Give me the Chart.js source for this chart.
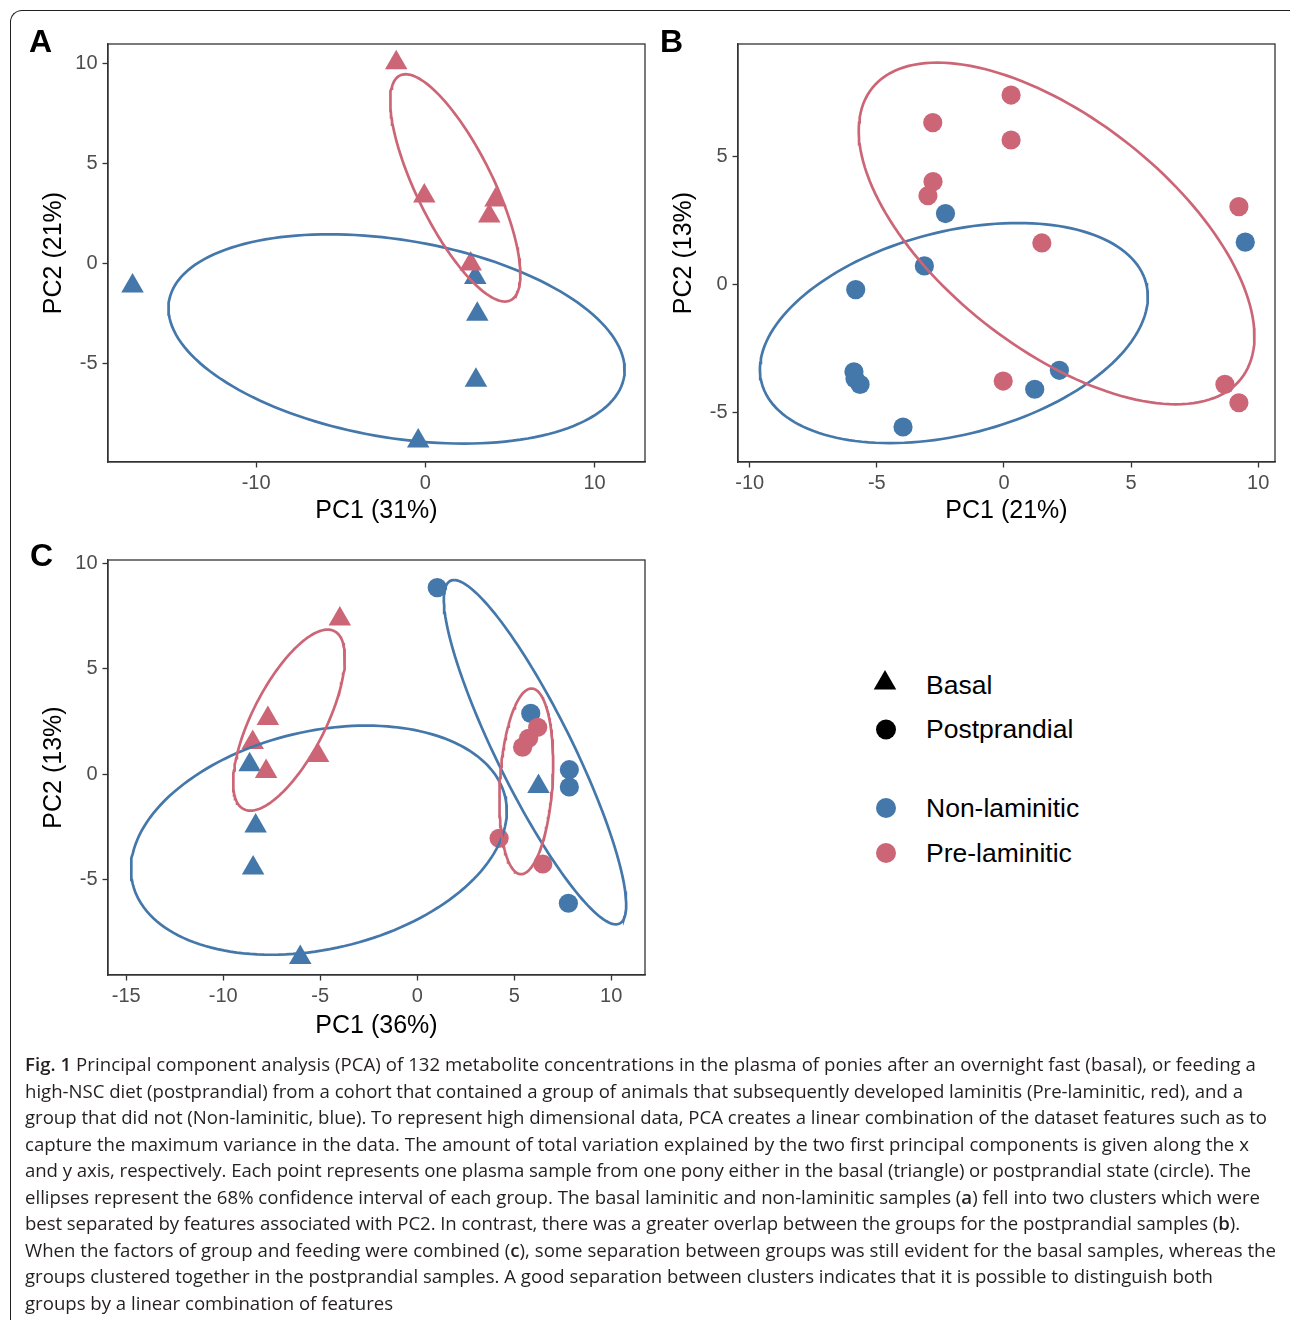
<!DOCTYPE html>
<html>
<head>
<meta charset="utf-8">
<script src="https://cdn.jsdelivr.net/npm/chart.js@4.4.1/dist/chart.umd.min.js"></script>
<style>
html,body{margin:0;padding:0;background:#fff;}
#page{position:relative;width:1290px;height:1320px;overflow:hidden;background:#fff;font-family:"Liberation Sans",Arial,sans-serif;}
.frame{position:absolute;left:10px;top:10px;width:1400px;height:1400px;border-left:1.5px solid #231f20;border-top:1.5px solid #231f20;border-top-left-radius:12px;}
canvas{position:absolute;}
.letter{position:absolute;font-weight:bold;font-size:32px;line-height:32px;color:#000;}
.leg{position:absolute;left:926px;font-size:26.5px;line-height:30px;color:#000;white-space:nowrap;}
.caption{position:absolute;left:25px;top:1051px;font-family:"Open Sans",sans-serif;font-size:18.6px;line-height:26.5px;color:#231f20;white-space:nowrap;}
.caption span{display:inline-block;}
.caption b{font-weight:600;}
</style>
</head>
<body>
<div id="page">
  <div class="frame"></div>
  <canvas id="cA" width="660" height="540" style="left:0;top:0;"></canvas>
  <canvas id="cB" width="660" height="540" style="left:630px;top:0;"></canvas>
  <canvas id="cC" width="660" height="537" style="left:0;top:516px;"></canvas>
  <div class="letter" style="left:29px;top:25px;">A</div>
  <div class="letter" style="left:660px;top:25px;">B</div>
  <div class="letter" style="left:30px;top:539px;">C</div>

  <svg style="position:absolute;left:860px;top:660px;" width="60" height="220">
    <polygon points="25,10 36.26,29.5 13.74,29.5" fill="#000"/>
    <circle cx="26" cy="69.5" r="10" fill="#000"/>
    <circle cx="26" cy="148" r="10" fill="#4477AA"/>
    <circle cx="26" cy="193" r="10" fill="#CC6677"/>
  </svg>
  <div class="leg" style="top:670px;">Basal</div>
  <div class="leg" style="top:714px;">Postprandial</div>
  <div class="leg" style="top:793px;">Non-laminitic</div>
  <div class="leg" style="top:838px;">Pre-laminitic</div>

  <div class="caption" id="cap">
    <div><span data-r="1256"><b>Fig. 1</b> Principal component analysis (PCA) of 132 metabolite concentrations in the plasma of ponies after an overnight fast (basal), or feeding a</span></div>
    <div><span data-r="1243">high-NSC diet (postprandial) from a cohort that contained a group of animals that subsequently developed laminitis (Pre-laminitic, red), and a</span></div>
    <div><span data-r="1267">group that did not (Non-laminitic, blue). To represent high dimensional data, PCA creates a linear combination of the dataset features such as to</span></div>
    <div><span data-r="1249">capture the maximum variance in the data. The amount of total variation explained by the two first principal components is given along the x</span></div>
    <div><span data-r="1251">and y axis, respectively. Each point represents one plasma sample from one pony either in the basal (triangle) or postprandial state (circle). The</span></div>
    <div><span data-r="1260">ellipses represent the 68% confidence interval of each group. The basal laminitic and non-laminitic samples (<b>a</b>) fell into two clusters which were</span></div>
    <div><span data-r="1240">best separated by features associated with PC2. In contrast, there was a greater overlap between the groups for the postprandial samples (<b>b</b>).</span></div>
    <div><span data-r="1276">When the factors of group and feeding were combined (<b>c</b>), some separation between groups was still evident for the basal samples, whereas the</span></div>
    <div><span data-r="1213">groups clustered together in the postprandial samples. A good separation between clusters indicates that it is possible to distinguish both</span></div>
    <div><span>groups by a linear combination of features</span></div>
  </div>
</div>

<script>
// ---------- Data ----------
// Panel A: basal samples
const aNonX = [-17.3, 2.95, 3.07, 2.99, -0.42];
const aNonY = [-1.13, -0.70, -2.53, -5.83, -8.87];
const aPreX = [-1.72, -0.06, 4.15, 3.78, 2.68];
const aPreY = [10.03, 3.37, 3.17, 2.37, -0.03];

// Panel B: postprandial samples
const bNonX = [-2.30, -3.13, -5.83, -5.90, -5.86, -5.66, 2.18, 1.21, -3.97, 9.49];
const bNonY = [2.78, 0.73, -0.20, -3.42, -3.69, -3.91, -3.36, -4.10, -5.58, 1.66];
const bPreX = [0.28, -2.80, 0.28, -2.79, -2.99, 1.49, 9.24, -0.03, 8.69, 9.24];
const bPreY = [7.42, 6.34, 5.66, 4.03, 3.48, 1.63, 3.05, -3.78, -3.91, -4.63];

// Panel C: combined
const cNonBasalX = [-8.64, -8.33, -8.46, -6.03, 6.25];
const cNonBasalY = [0.46, -2.45, -4.44, -8.68, -0.57];
const cPreBasalX = [-3.99, -7.70, -8.48, -7.79, -5.11];
const cPreBasalY = [7.36, 2.65, 1.51, 0.14, 0.89];
const cNonPostX = [1.03, 5.85, 7.84, 7.84, 7.79];
const cNonPostY = [8.85, 2.89, 0.22, -0.60, -6.11];
const cPrePostX = [6.21, 5.74, 5.43, 4.22, 6.47];
const cPrePostY = [2.23, 1.71, 1.29, -3.03, -4.25];

// 68% ellipses: [centreX, centreY, axis1X, axis1Y, axis2X (horizontal conjugate)]
const ellANon = [-1.70, -3.77, -3.97, 5.23, 12.88];
const ellAPre = [1.77, 3.78, -2.93, 5.68, 2.49];
const ellBNon = [-1.97, -1.90, 2.52, 4.31, 7.20];
const ellBPre = [2.07, 2.00, -4.69, 6.69, 6.21];
const ellCNonBasal = [-5.07, -3.12, 2.45, 5.43, 9.37];
const ellCPreBasal = [-6.61, 2.57, 1.99, 4.29, 2.08];
const ellCNonPost = [6.07, 1.05, -4.17, 8.16, 2.17];
const ellCPrePost = [5.62, -0.33, 0.27, 4.40, 1.36];

// Axis ticks and titles
const aXTicks = [-10, 0, 10];
const aYTicks = [-5, 0, 5, 10];
const bXTicks = [-10, -5, 0, 5, 10];
const bYTicks = [-5, 0, 5];
const cXTicks = [-15, -10, -5, 0, 5, 10];
const cYTicks = [-5, 0, 5, 10];
const aTitles = ['PC1 (31%)', 'PC2 (21%)'];
const bTitles = ['PC1 (21%)', 'PC2 (13%)'];
const cTitles = ['PC1 (36%)', 'PC2 (13%)'];
const aRange = [-18.75, 12.98, -9.92, 10.97];
const bRange = [-10.46, 10.66, -6.95, 9.42];
const cRange = [-15.94, 11.74, -9.51, 10.16];

// ---------- Helpers ----------
const BLUE = '#4477AA', RED = '#CC6677';
const zip = (xs, ys) => xs.map((x, i) => ({x: x, y: ys[i]}));
function ellipsePts(p) {
  const n = 160, out = [];
  for (let i = 0; i <= n; i++) {
    const t = 2 * Math.PI * i / n;
    out.push({x: p[0] + p[2] * Math.cos(t) + p[4] * Math.sin(t), y: p[1] + p[3] * Math.cos(t)});
  }
  return out;
}
function pts(xs, ys, color, style, order) {
  return {type: 'scatter', data: zip(xs, ys), backgroundColor: color, borderColor: color, borderWidth: 0,
    pointStyle: style, pointRadius: style === 'triangle' ? 13 : 9.6, pointHoverRadius: 0, order: order};
}
function ell(p, color, order) {
  return {type: 'scatter', showLine: true, data: ellipsePts(p), borderColor: color, backgroundColor: color,
    borderWidth: 2.7, pointRadius: 0, pointHoverRadius: 0, fill: false, tension: 0, order: order};
}
const framePlugin = {
  id: 'frame',
  afterDatasetsDraw(chart) {
    const a = chart.chartArea, ctx = chart.ctx;
    ctx.save(); ctx.strokeStyle = '#333333'; ctx.lineWidth = 1.3;
    ctx.strokeRect(a.left, a.top, a.right - a.left, a.bottom - a.top);
    ctx.restore();
  }
};
function makeChart(id, datasets, range, xt, yt, titles, xAxisH, xTitlePad) {
  const tickFont = {family: 'Liberation Sans', size: 20};
  const titleFont = {family: 'Liberation Sans', size: 25, lineHeight: 1};
  const grid = {display: true, drawOnChartArea: false, drawTicks: true, tickLength: 5.5, tickWidth: 1.3, tickColor: '#333333', color: '#333333'};
  new Chart(document.getElementById(id), {
    data: {datasets: datasets},
    plugins: [framePlugin],
    options: {
      responsive: false, animation: false, devicePixelRatio: 1,
      layout: {padding: {left: 0, top: 44, right: 15, bottom: 0}},
      plugins: {legend: {display: false}, tooltip: {enabled: false}},
      scales: {
        x: {type: 'linear', position: 'bottom', min: range[0], max: range[1],
          afterBuildTicks: s => { s.ticks = xt.map(v => ({value: v})); },
          afterFit: s => { s.height = xAxisH; },
          grid: grid, border: {display: true, color: '#333333', width: 1.3},
          ticks: {color: '#4D4D4D', font: tickFont, padding: 3.5, maxRotation: 0, autoSkip: false, callback: v => String(v)},
          title: {display: true, text: titles[0], color: '#000', font: titleFont, padding: {top: 0, bottom: xTitlePad}}},
        y: {type: 'linear', position: 'left', min: range[2], max: range[3],
          afterBuildTicks: s => { s.ticks = yt.map(v => ({value: v})); },
          afterFit: s => { s.width = 108; },
          grid: grid, border: {display: true, color: '#333333', width: 1.3},
          ticks: {color: '#4D4D4D', font: tickFont, padding: 5, autoSkip: false, callback: v => String(v)},
          title: {display: true, text: titles[1], color: '#000', font: titleFont, padding: {top: 41.5, bottom: 0}}}
      }
    }
  });
}

makeChart('cA', [
  ell(ellAPre, RED, -2), ell(ellANon, BLUE, -1),
  pts(aPreX, aPreY, RED, 'triangle', 1), pts(aNonX, aNonY, BLUE, 'triangle', 2)
], aRange, aXTicks, aYTicks, aTitles, 78, 16.5);

makeChart('cB', [
  ell(ellBPre, RED, -2), ell(ellBNon, BLUE, -1),
  pts(bPreX, bPreY, RED, 'circle', 1), pts(bNonX, bNonY, BLUE, 'circle', 2)
], bRange, bXTicks, bYTicks, bTitles, 78, 16.5);

makeChart('cC', [
  ell(ellCPrePost, RED, -4), ell(ellCPreBasal, RED, -3), ell(ellCNonPost, BLUE, -2), ell(ellCNonBasal, BLUE, -1),
  pts(cPrePostX, cPrePostY, RED, 'circle', 1), pts(cPreBasalX, cPreBasalY, RED, 'triangle', 2),
  pts(cNonPostX, cNonPostY, BLUE, 'circle', 3), pts(cNonBasalX, cNonBasalY, BLUE, 'triangle', 4)
], cRange, cXTicks, cYTicks, cTitles, 78, 14);

// Fit caption lines to the reference line lengths
document.querySelectorAll('#cap span[data-r]').forEach(sp => {
  const target = parseFloat(sp.dataset.r) - 25;
  const w = sp.getBoundingClientRect().width;
  const n = sp.textContent.length;
  if (n > 1) sp.style.letterSpacing = ((target - w) / n) + 'px';
});
</script>
</body>
</html>
